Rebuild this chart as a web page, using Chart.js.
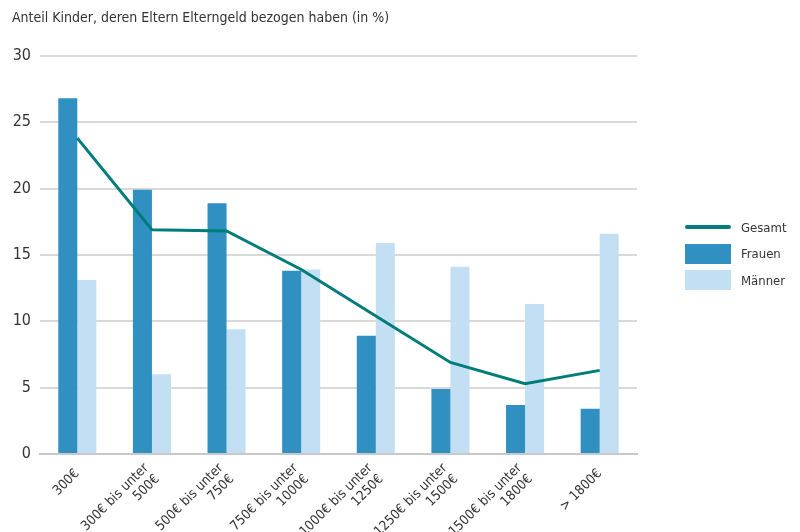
<!DOCTYPE html>
<html>
<head>
<meta charset="utf-8">
<script src="https://cdn.jsdelivr.net/npm/chart.js@4/dist/chart.umd.min.js"></script>
<style>
  html, body { margin: 0; padding: 0; background: #fff; }
  #wrap { position: relative; width: 800px; height: 532px; }
  #legend { position: absolute; left: 685px; top: 217px; font: 13px "DejaVu Sans Condensed", "DejaVu Sans", sans-serif; color: #333; }
  #legend .item { display: flex; align-items: center; height: 20px; margin-bottom: 6.5px; }
  #legend .sym { width: 46px; height: 20px; margin-right: 10px; position: relative; }
  #legend .sym.line::after { content: ''; position: absolute; left: 0; right: 0; top: 8px; height: 4px; border-radius: 2px; background: currentColor; }
</style>
</head>
<body>
<div id="wrap">
  <canvas id="elterngeldChart"></canvas>
  <div id="legend"></div>
</div>
<script>
const categories = [
  '300€',
  ['300€ bis unter', '500€'],
  ['500€ bis unter', '750€'],
  ['750€ bis unter', '1000€'],
  ['1000€ bis unter', '1250€'],
  ['1250€ bis unter', '1500€'],
  ['1500€ bis unter', '1800€'],
  '> 1800€'
];
const gesamt = [23.8, 16.9, 16.8, 13.9, 10.4, 6.9, 5.3, 6.3];
const frauen = [26.8, 19.9, 18.9, 13.8, 8.9, 4.9, 3.7, 3.4];
const maenner = [13.1, 6.0, 9.4, 13.9, 15.9, 14.1, 11.3, 16.6];
const yTicks = [0, 5, 10, 15, 20, 25, 30];

const colGesamt = '#007d78';
const colFrauen = '#3190c2';
const colMaenner = '#c3dff3';
const fontFamily = '"DejaVu Sans Condensed", "DejaVu Sans", sans-serif';

// rotated two-line x labels: center the block on the tick instead of hanging it below
const centerMultiLineLabels = {
  id: 'centerMultiLineLabels',
  afterLayout(chart) {
    const items = chart.scales.x.getLabelItems();
    items.forEach(it => {
      if (Array.isArray(it.label)) {
        it.textOffset -= (it.label.length - 1) * it.font.lineHeight / 2;
      }
    });
  }
};

const el = document.getElementById('elterngeldChart');
const chart = new Chart(el, {
  type: 'bar',
  data: {
    labels: categories,
    datasets: [
      { type: 'line', label: 'Gesamt', data: gesamt, borderColor: colGesamt, backgroundColor: colGesamt,
        borderWidth: 3, pointRadius: 0, tension: 0, order: 0 },
      { label: 'Frauen', data: frauen, backgroundColor: colFrauen, order: 1 },
      { label: 'Männer', data: maenner, backgroundColor: colMaenner, order: 1 }
    ]
  },
  options: {
    responsive: true,
    maintainAspectRatio: false,
    animation: false,
    layout: { padding: { left: 12, right: 163, top: 0, bottom: 0 } },
    datasets: { bar: { barPercentage: 1, categoryPercentage: 0.51 } },
    plugins: {
      title: {
        display: true,
        text: 'Anteil Kinder, deren Eltern Elterngeld bezogen haben (in %)',
        align: 'start',
        color: '#333',
        font: { family: fontFamily, size: 14, weight: 'normal' },
        padding: { top: 10, bottom: 29 }
      },
      legend: { display: false },
      tooltip: { enabled: false }
    },
    scales: {
      x: {
        afterFit(axis) { axis.height = 78; axis.paddingLeft = 0; },
        grid: { display: false },
        border: { color: '#c8c8c8', width: 2 },
        ticks: {
          color: '#333',
          minRotation: 45,
          maxRotation: 45,
          padding: 4,
          font: { family: fontFamily, size: 13.5, lineHeight: 1.15 }
        }
      },
      y: {
        min: 0,
        max: 30,
        afterBuildTicks(axis) { axis.ticks = yTicks.map(v => ({ value: v })); },
        afterFit(axis) { axis.width = 28; },
        grid: { color: '#d9d9d9', lineWidth: 2, drawTicks: false },
        border: { display: false },
        ticks: {
          color: '#333',
          padding: 9,
          font: { family: fontFamily, size: 16 }
        }
      }
    }
  },
  plugins: [centerMultiLineLabels]
});

// legend built from the chart's datasets
const legend = document.getElementById('legend');
chart.data.datasets.forEach(ds => {
  const item = document.createElement('div');
  item.className = 'item';
  const sym = document.createElement('span');
  sym.className = 'sym' + (ds.type === 'line' ? ' line' : '');
  if (ds.type === 'line') sym.style.color = ds.borderColor;
  else sym.style.background = ds.backgroundColor;
  const txt = document.createElement('span');
  txt.textContent = ds.label;
  item.append(sym, txt);
  legend.appendChild(item);
});
</script>
</body>
</html>
